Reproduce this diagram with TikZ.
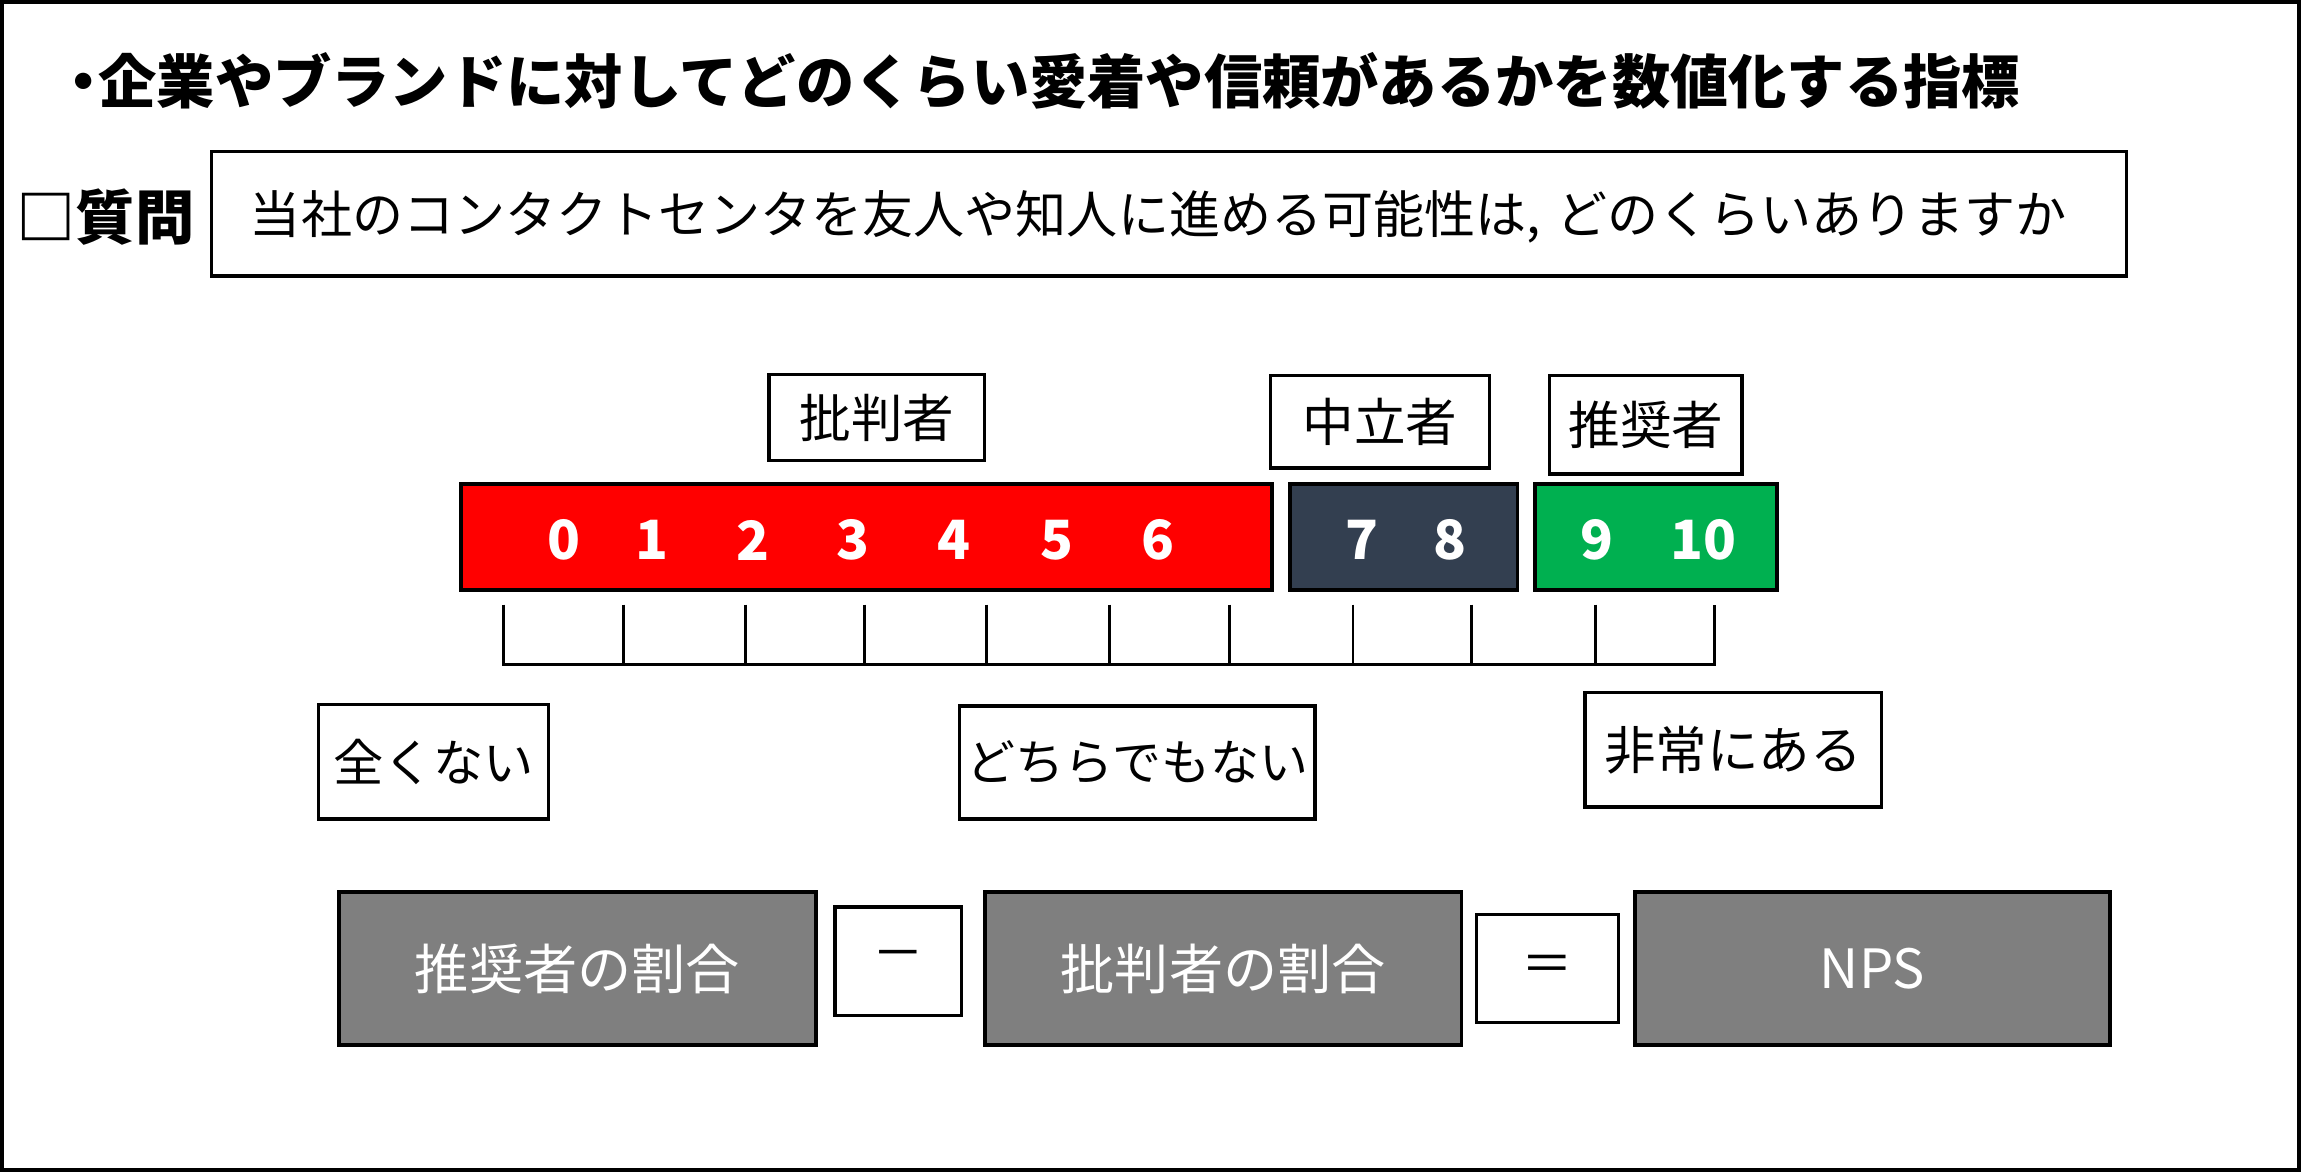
\documentclass[tikz,border=0pt]{standalone}
\usepackage{fontspec}
\setmainfont{Noto Sans CJK JP}
\begin{document}
\begin{tikzpicture}[x=0.2mm,y=-0.2mm,
  box/.style={draw=black,line width=0.45mm,fill=white,inner sep=0pt,align=center},
  bar/.style={draw=black,line width=0.5mm,inner sep=0pt,minimum height=14.4mm},
  gbox/.style={draw=black,line width=0.5mm,fill=npsgray,text=white,inner sep=0pt,minimum width=65mm,minimum height=20.8mm,font=\fontsize{21}{24}\selectfont},
  num/.style={text=white,font=\fontsize{21}{24}\selectfont\bfseries,inner sep=0pt},
  lbl/.style={font=\fontsize{20}{24}\selectfont},
  tick/.style={line width=0.4mm}]
\definecolor{npsred}{HTML}{FF0000}
\definecolor{npsdark}{HTML}{333F50}
\definecolor{npsgreen}{HTML}{00B050}
\definecolor{npsgray}{HTML}{7F7F7F}
\useasboundingbox (0,0) rectangle (1568,799);
\draw[line width=0.55mm] (1.5,1.5) rectangle (1566.5,797.5);
% title
\node[anchor=west,inner sep=0pt,font=\fontsize{22.6}{26}\selectfont\bfseries] (title) at (37,55) {・\hspace{-0.25em}企業やブランドに対してどのくらい愛着や信頼があるかを数値化する指標};
% question
\node[anchor=west,inner sep=0pt,font=\fontsize{23}{26}\selectfont\bfseries] (qlabel) at (11,148) {□質問};
\node[box,minimum width=261mm,minimum height=17mm] (qbox) at (796.5,145.5) {};
\node[anchor=west,inner sep=0pt,font=\fontsize{19.8}{24}\selectfont] (qtext) at (170,148) {当社のコンタクトセンタを友人や知人に進める可能性は,\hspace{0.3em}どのくらいありますか};
% category labels
\node[box,lbl,minimum width=29.4mm,minimum height=11.8mm] (critic) at (597.5,284.5) {批判者};
\node[box,lbl,minimum width=29.8mm,minimum height=12.6mm] (neutral) at (940.5,287.5) {中立者};
\node[box,lbl,minimum width=26.2mm,minimum height=13.4mm] (promoter) at (1121.5,289.5) {推奨者};
% bars
\node[bar,fill=npsred,minimum width=110.6mm] (redbar) at (590.5,366) {};
\node[bar,fill=npsdark,minimum width=31mm] (darkbar) at (956.5,366) {};
\node[bar,fill=npsgreen,minimum width=33mm] (greenbar) at (1128.5,366) {};
\node[num] (n0) at (384,368) {0};
\node[num] (n1) at (444,368) {1};
\node[num] (n2) at (513,368) {2};
\node[num] (n3) at (581,368) {3};
\node[num] (n4) at (650,368) {4};
\node[num] (n5) at (720,368) {5};
\node[num] (n6) at (789,368) {6};
\node[num] (n7) at (928,368) {7};
\node[num] (n8) at (988,368) {8};
\node[num] (n9) at (1088,368) {9};
\node[num] (n10) at (1161,368) {10};
% scale ticks
\draw[tick] (343,412) -- (343,453) -- (1168,453) -- (1168,412);
\foreach \tx in {425,508,589,672,756,838,922,1003,1087}
  \draw[tick] (\tx,412) -- (\tx,453);
% scale end labels
\node[box,font=\fontsize{19.5}{24}\selectfont,minimum width=31.4mm,minimum height=15.6mm] (none) at (295.5,519) {全くない};
\node[box,font=\fontsize{19}{24}\selectfont,minimum width=48.4mm,minimum height=15.4mm] (mid) at (775,519.5) {どちらでもない};
\node[box,lbl,minimum width=40.4mm,minimum height=15.6mm] (very) at (1181,511) {非常にある};
% formula
\node[gbox] (promshare) at (393.5,660) {推奨者の割合};
\node[box,font=\fontsize{20}{24}\selectfont,minimum width=17.2mm,minimum height=14.8mm] (minus) at (612,655) {－};
\node[gbox] (critshare) at (833.5,660) {批判者の割合};
\node[box,font=\fontsize{20}{24}\selectfont,minimum width=19.4mm,minimum height=14.8mm] (equals) at (1054.5,660) {＝};
\node[gbox,minimum width=64.8mm] (nps) at (1276,660) {NPS};
\end{tikzpicture}
\end{document}
